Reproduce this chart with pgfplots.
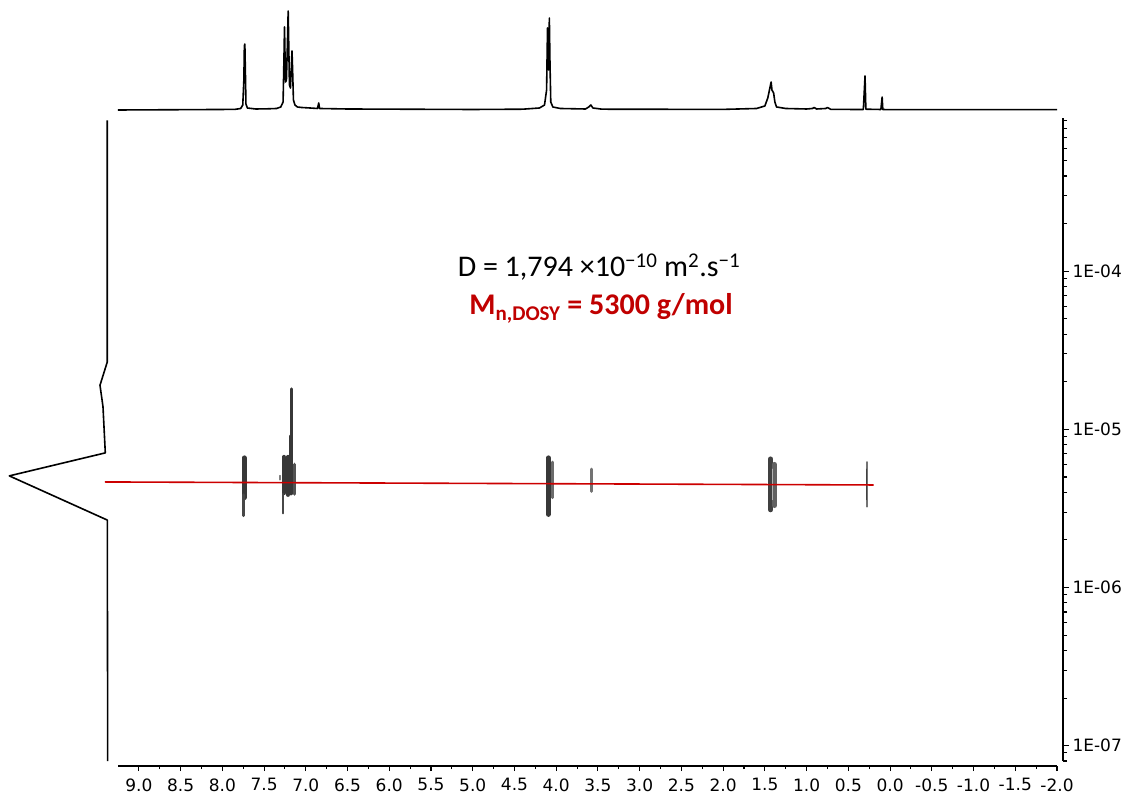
\documentclass[border=0pt]{standalone}
\usepackage{pgfplots}
\pgfplotsset{compat=1.18}
\usepackage{fontspec}
\setmainfont{DejaVu Sans}
\newfontfamily\calibri{Carlito}
\definecolor{dred}{RGB}{192,0,0}
\definecolor{lred}{RGB}{204,0,0}
\newcommand\tlfont{\fontsize{17bp}{19bp}\selectfont}
\pgfplotsset{every tick label/.append style={font=\tlfont}}
\begin{document}
\begin{tikzpicture}[x=1bp,y=1bp]
\useasboundingbox (0,0) rectangle (1121bp,796bp);
% ---------- top 1D spectrum ----------
\begin{axis}[at={(118bp,686bp)},anchor=south west,scale only axis,
  width=939bp,height=100bp,xmin=-2,xmax=9.25,x dir=reverse,ymin=0,ymax=100,
  hide axis,clip=false]
\addplot[black,line width=1.6bp,line join=round] coordinates {
(9.25,0) (8.50,0.3) (7.85,0.6) (7.78,1.5) (7.755,5) (7.742,30) (7.736,64) (7.730,66) (7.724,40) (7.717,6) (7.70,2) (7.60,1)
(7.45,1.2) (7.35,1.5) (7.30,3) (7.272,8) (7.262,50) (7.255,83) (7.249,55) (7.242,28) (7.232,30) (7.222,60) (7.211,99) (7.205,70)
(7.196,25) (7.184,22) (7.172,45) (7.165,59) (7.158,40) (7.148,10) (7.13,5) (7.10,3) (7.05,2.5) (6.95,2) (6.86,1.5) (6.845,7) (6.835,1.5)
(6.5,1) (5.0,0.5) (4.40,0.8) (4.20,2) (4.14,5) (4.115,20) (4.104,82) (4.097,55) (4.090,40) (4.082,92) (4.075,50) (4.065,8) (4.04,3)
(3.95,1.5) (3.65,1) (3.61,3) (3.585,5) (3.56,2) (3.45,0.8) (2.0,0.6) (1.60,1.5) (1.50,4) (1.465,12) (1.445,20) (1.425,28) (1.415,20)
(1.395,17) (1.38,8) (1.36,3) (1.25,1.5) (1.0,1) (0.93,1.5) (0.91,2.5) (0.88,1) (0.77,1.5) (0.75,2.5) (0.71,0.6) (0.32,0.5)
(0.300,34) (0.290,0.8) (0.11,0.5) (0.095,13) (0.087,0.5) (0.0,0.3) (-2.0,0.3)};
\end{axis}
% ---------- left projection ----------
\begin{axis}[at={(7.3bp,35bp)},anchor=south west,scale only axis,
  width=100bp,height=643bp,xmin=0,xmax=100,x dir=reverse,
  ymode=log,ymin=8e-8,ymax=9.3e-4,hide axis,clip=false]
\addplot[black,line width=1.6bp,line join=round] coordinates {
(0,9.0e-4) (0,2.67e-5) (7.3,1.90e-5) (4.3,1.39e-5) (2,7.10e-6) (98,5.08e-6) (0,2.67e-6) (-0.4,8e-8)};
\end{axis}
% ---------- 2D DOSY area ----------
\begin{axis}[at={(118bp,35bp)},anchor=south west,scale only axis,
  width=939bp,height=643bp,xmin=-2,xmax=9.25,x dir=reverse,
  ymode=log,ymin=8e-8,ymax=9.3e-4,hide axis,clip=false]
\pgfplotsset{every axis plot/.append style={line cap=round}}
% 7.74
\addplot[line width=5bp,black!78] coordinates {(7.739,6.6e-6) (7.739,3.7e-6)};
\addplot[line width=3bp,black!72] coordinates {(7.743,3.85e-6) (7.743,2.85e-6)};
% 7.31 tiny
\addplot[line width=1.5bp,black!50] coordinates {(7.31,5.1e-6) (7.31,4.8e-6)};
% 7.26
\addplot[line width=4bp,black!78] coordinates {(7.262,6.7e-6) (7.262,3.95e-6)};
\addplot[line width=2.5bp,black!72] coordinates {(7.272,3.9e-6) (7.272,2.95e-6)};
% 7.21
\addplot[line width=4bp,black!78] coordinates {(7.214,6.7e-6) (7.214,3.85e-6)};
% 7.18 tall
\addplot[line width=3bp,black!78] coordinates {(7.176,1.80e-5) (7.176,8e-6)};
\addplot[line width=4.5bp,black!78] coordinates {(7.176,9e-6) (7.176,3.95e-6)};
% 7.13
\addplot[line width=3.5bp,black!68] coordinates {(7.138,6.0e-6) (7.138,3.9e-6)};
% 4.10
\addplot[line width=5bp,black!78] coordinates {(4.094,6.6e-6) (4.094,2.9e-6)};
\addplot[line width=3bp,black!58] coordinates {(4.040,6.2e-6) (4.040,3.7e-6)};
% 3.58
\addplot[line width=3bp,black!55] coordinates {(3.578,5.6e-6) (3.578,4.05e-6)};
% 1.42
\addplot[line width=5bp,black!75] coordinates {(1.432,6.5e-6) (1.432,3.1e-6)};
\addplot[line width=5bp,black!62] coordinates {(1.385,6.0e-6) (1.385,3.3e-6)};
\addplot[line width=1.2bp,black!30] coordinates {(1.41,5.6e-6) (1.41,3.6e-6)};
% 0.28
\addplot[line width=2.2bp,black!55] coordinates {(0.281,6.2e-6) (0.281,3.25e-6)};
\addplot[line width=1.2bp,black!75] coordinates {(0.281,5.6e-6) (0.281,3.6e-6)};
% fit line
\addplot[lred,line width=1.6bp,line cap=butt] coordinates {(9.406,4.65e-6) (0.197,4.45e-6)};
\end{axis}
% ---------- bottom chemical shift axis ----------
\begin{axis}[at={(118bp,30bp)},anchor=south west,scale only axis,
  width=939bp,height=10bp,xmin=-2,xmax=9.25,x dir=reverse,ymin=0,ymax=1,
  axis x line*=bottom,axis y line=none,axis line style={line width=1.3bp,-},
  tick align=outside,major tick length=5bp,minor tick length=3bp,
  every tick/.style={black,line width=1.1bp},
  xtick={-2,-1.5,...,9},minor x tick num=1,
  xticklabels={-2.0,-1.5,-1.0,-0.5,0.0,0.5,1.0,1.5,2.0,2.5,3.0,3.5,4.0,4.5,5.0,5.5,6.0,6.5,7.0,7.5,8.0,8.5,9.0},
  xticklabel style={font=\tlfont,yshift=-4bp}]
\end{axis}
% ---------- right diffusion axis ----------
\begin{axis}[at={(1062bp,35bp)},anchor=south west,scale only axis,
  width=1bp,height=643bp,xmin=0,xmax=1,
  ymode=log,ymin=8e-8,ymax=9.3e-4,
  axis y line*=right,axis x line=none,axis line style={line width=1.3bp,-},
  tick align=outside,major tick length=6bp,minor tick length=4bp,
  every tick/.style={black,line width=1.1bp},
  ytick={1e-7,1e-6,1e-5,1e-4},yticklabels={1E-07,1E-06,1E-05,1E-04},
  minor ytick={8e-8,9e-8,2e-7,3e-7,4e-7,5e-7,6e-7,7e-7,8e-7,9e-7,2e-6,3e-6,4e-6,5e-6,6e-6,7e-6,8e-6,9e-6,2e-5,3e-5,4e-5,5e-5,6e-5,7e-5,8e-5,9e-5,2e-4,3e-4,4e-4,5e-4,6e-4,7e-4,8e-4,9e-4},
  yticklabel style={font=\tlfont}]
\end{axis}
% ---------- annotation ----------
\node[font=\calibri\fontsize{30bp}{36bp}\selectfont,anchor=base,inner sep=0pt] at (599bp,519bp)
  {D = 1,794 ×10\textsuperscript{−10} m\textsuperscript{2}.s\textsuperscript{−1}};
\node[font=\calibri\bfseries\fontsize{30bp}{36bp}\selectfont,text=dred,anchor=base,inner sep=0pt] at (601bp,481bp)
  {M\textsubscript{n,DOSY} = 5300 g/mol};
\end{tikzpicture}
\end{document}
